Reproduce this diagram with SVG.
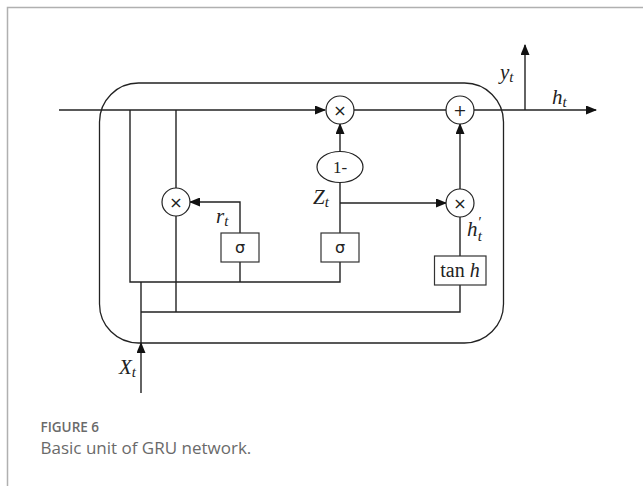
<svg xmlns="http://www.w3.org/2000/svg" width="643" height="486" viewBox="0 0 643 486">
<style>
.ln{fill:none;stroke:#222;stroke-width:1.4}
.frame{fill:none;stroke:#b0b0b0;stroke-width:1.5}
.op{fill:#fff;stroke:#222;stroke-width:1.2}
.box{fill:#fff;stroke:#333;stroke-width:1.2}
.sym{font-family:"DejaVu Sans",sans-serif;font-size:16px;fill:#222;text-anchor:middle}
.sig{font-family:"DejaVu Sans",sans-serif;font-size:16px;fill:#222;text-anchor:middle}
.lab{font-family:"Liberation Serif",serif;font-style:italic;font-size:21px;fill:#222}
.sub{font-size:15px}
.cap1{font-family:"Open Sans",sans-serif;font-weight:600;font-size:13.5px;fill:#6a6a6a}
.cap2{font-family:"Open Sans",sans-serif;font-size:17px;fill:#6a6a6a}
</style>
<defs>
<marker id="ah" markerUnits="userSpaceOnUse" markerWidth="11" markerHeight="9" refX="10" refY="4.5" orient="auto">
<path d="M0,0 L11,4.5 L0,9 z" fill="#111"/>
</marker>
</defs>
<rect width="643" height="486" fill="#fff"/>
<path class="frame" d="M7.5,486 V7.5 H643"/>
<rect id="cell" x="99.5" y="83" width="404" height="260" rx="39" ry="39" class="ln" style="stroke-width:1.3"/>
<g id="connectors">
<line class="ln" x1="59" y1="110" x2="325" y2="110" marker-end="url(#ah)"/>
<line class="ln" x1="353" y1="110" x2="446" y2="110"/>
<line class="ln" x1="474" y1="110" x2="596" y2="110" marker-end="url(#ah)"/>
<line class="ln" x1="525" y1="110" x2="525" y2="45" marker-end="url(#ah)"/>
<line class="ln" x1="340" y1="152" x2="340" y2="124" marker-end="url(#ah)"/>
<line class="ln" x1="340" y1="233" x2="340" y2="183"/>
<line class="ln" x1="340" y1="203" x2="446" y2="203" marker-end="url(#ah)"/>
<line class="ln" x1="460" y1="189" x2="460" y2="124" marker-end="url(#ah)"/>
<line class="ln" x1="460" y1="217" x2="460" y2="256"/>
<polyline class="ln" points="240,233 240,202 190,202" marker-end="url(#ah)"/>
<polyline class="ln" points="130,110 130,282 340,282 340,262"/>
<line class="ln" x1="240" y1="262" x2="240" y2="282"/>
<line class="ln" x1="176" y1="110" x2="176" y2="188"/>
<line class="ln" x1="176" y1="216" x2="176" y2="312"/>
<polyline class="ln" points="141,312 460,312 460,285"/>
<line class="ln" x1="141" y1="393" x2="141" y2="343" marker-end="url(#ah)"/>
<line class="ln" x1="141" y1="343" x2="141" y2="282"/>
</g>
<g id="mul1"><circle class="op" cx="340" cy="110" r="14"/><text class="sym" x="340" y="115.5">×</text></g>
<g id="add"><circle class="op" cx="460" cy="110" r="14"/><text class="sym" x="460" y="115.5">+</text></g>
<g id="mulr"><circle class="op" cx="176" cy="202" r="14"/><text class="sym" x="176" y="207.5">×</text></g>
<g id="mulz"><circle class="op" cx="460" cy="203" r="14"/><text class="sym" x="460" y="208.5">×</text></g>
<g id="oneminus"><ellipse class="op" cx="340" cy="167" rx="23" ry="15.5"/><text x="340" y="172.5" style="font-family:'Liberation Serif',serif;font-size:17px;fill:#222;text-anchor:middle">1-</text></g>
<g id="sigr"><rect class="box" x="221" y="233" width="38" height="29"/><text class="sig" x="240" y="253">σ</text></g>
<g id="sigz"><rect class="box" x="321" y="233" width="38" height="29"/><text class="sig" x="340" y="253">σ</text></g>
<g id="tanh"><rect class="box" x="434.5" y="256" width="51.5" height="29"/><text x="460" y="277" style="font-family:'Liberation Serif',serif;font-size:20px;fill:#222;text-anchor:middle">tan <tspan font-style="italic">h</tspan></text></g>
<g id="labels">
<text class="lab" x="500" y="79">y<tspan class="sub" dy="3">t</tspan></text>
<text class="lab" x="552" y="104">h<tspan class="sub" dy="3">t</tspan></text>
<text class="lab" x="313" y="204">Z<tspan class="sub" dy="3">t</tspan></text>
<text class="lab" x="216" y="223">r<tspan class="sub" dy="3">t</tspan></text>
<text class="lab" x="467" y="236">h<tspan class="sub" dy="-9">′</tspan><tspan class="sub" dx="-3" dy="14">t</tspan></text>
<text class="lab" x="119" y="374">X<tspan class="sub" dy="3">t</tspan></text>
</g>
<g id="caption">
<text class="cap1" x="40.5" y="432">FIGURE 6</text>
<text class="cap2" x="40.5" y="454">Basic unit of GRU network.</text>
</g>
</svg>
